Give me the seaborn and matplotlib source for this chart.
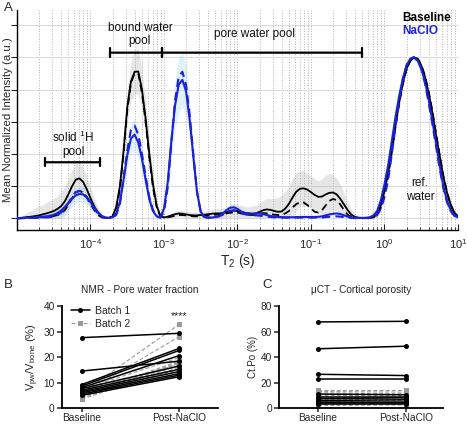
import numpy as np
import pandas as pd
import matplotlib
matplotlib.use("Agg")
import matplotlib.pyplot as plt
import seaborn as sns
from matplotlib.ticker import LogLocator, NullFormatter
from matplotlib.lines import Line2D

# ---------------- data: panel A (values read every 0.05 decade, log10 T2 from -5 to 1) ----------------
log_t2 = np.round(np.arange(121) * 0.05 - 5.0, 2)
t2 = 10.0 ** log_t2

baseline_mean = [
    0.000, 0.002, 0.005, 0.008, 0.010, 0.014, 0.018, 0.024, 0.030, 0.037,
    0.045, 0.058, 0.075, 0.105, 0.150, 0.200, 0.240, 0.248, 0.225, 0.180,
    0.125, 0.075, 0.035, 0.012, 0.003, 0.002, 0.012, 0.070, 0.200, 0.420,
    0.690, 0.850, 0.910, 0.912, 0.800, 0.620, 0.400, 0.210, 0.080, 0.015,
    0.005, 0.010, 0.018, 0.025, 0.030, 0.028, 0.024, 0.020, 0.018, 0.018,
    0.020, 0.022, 0.025, 0.028, 0.030, 0.030, 0.032, 0.038, 0.044, 0.047,
    0.045, 0.040, 0.034, 0.030, 0.028, 0.030, 0.040, 0.050, 0.055, 0.052,
    0.045, 0.040, 0.042, 0.060, 0.090, 0.130, 0.165, 0.183, 0.186, 0.178,
    0.162, 0.145, 0.133, 0.135, 0.148, 0.158, 0.160, 0.148, 0.120, 0.085,
    0.050, 0.022, 0.008, 0.003, 0.002, 0.002, 0.003, 0.008, 0.025, 0.080,
    0.170, 0.280, 0.430, 0.580, 0.720, 0.840, 0.930, 0.980, 1.000, 0.990,
    0.950, 0.880, 0.780, 0.660, 0.520, 0.390, 0.260, 0.160, 0.085, 0.035,
    0.012]

baseline_batch2 = [
    0.000, 0.000, 0.001, 0.002, 0.003, 0.004, 0.005, 0.006, 0.008, 0.010,
    0.014, 0.020, 0.030, 0.050, 0.085, 0.125, 0.160, 0.170, 0.160, 0.130,
    0.090, 0.052, 0.022, 0.006, 0.002, 0.002, 0.010, 0.060, 0.180, 0.400,
    0.670, 0.840, 0.900, 0.900, 0.780, 0.600, 0.380, 0.190, 0.070, 0.012,
    0.004, 0.006, 0.010, 0.015, 0.020, 0.020, 0.018, 0.015, 0.012, 0.012,
    0.013, 0.015, 0.017, 0.020, 0.022, 0.024, 0.026, 0.030, 0.034, 0.036,
    0.034, 0.030, 0.025, 0.022, 0.020, 0.022, 0.028, 0.032, 0.030, 0.026,
    0.022, 0.020, 0.022, 0.030, 0.045, 0.068, 0.088, 0.100, 0.098, 0.082,
    0.060, 0.040, 0.035, 0.050, 0.080, 0.108, 0.120, 0.112, 0.085, 0.050,
    0.022, 0.008, 0.003, 0.002, 0.001, 0.001, 0.002, 0.006, 0.020, 0.065,
    0.150, 0.260, 0.410, 0.570, 0.715, 0.835, 0.925, 0.978, 1.000, 0.992,
    0.955, 0.885, 0.790, 0.670, 0.530, 0.395, 0.265, 0.160, 0.082, 0.032,
    0.010]

naclo_mean = [
    0.000, 0.001, 0.002, 0.003, 0.004, 0.005, 0.007, 0.009, 0.012, 0.016,
    0.022, 0.032, 0.048, 0.070, 0.095, 0.122, 0.142, 0.151, 0.148, 0.130,
    0.100, 0.068, 0.038, 0.015, 0.004, 0.002, 0.006, 0.030, 0.100, 0.240,
    0.390, 0.495, 0.520, 0.470, 0.370, 0.240, 0.120, 0.045, 0.012, 0.004,
    0.060, 0.220, 0.480, 0.700, 0.830, 0.860, 0.790, 0.610, 0.380, 0.160,
    0.040, 0.008, 0.004, 0.004, 0.008, 0.015, 0.030, 0.050, 0.065, 0.068,
    0.058, 0.042, 0.032, 0.030, 0.028, 0.030, 0.030, 0.026, 0.020, 0.014,
    0.010, 0.008, 0.007, 0.006, 0.006, 0.006, 0.007, 0.008, 0.008, 0.008,
    0.008, 0.008, 0.009, 0.012, 0.018, 0.024, 0.028, 0.030, 0.026, 0.018,
    0.010, 0.005, 0.003, 0.002, 0.002, 0.003, 0.006, 0.018, 0.045, 0.110,
    0.210, 0.330, 0.480, 0.630, 0.760, 0.870, 0.950, 0.990, 1.000, 0.980,
    0.930, 0.850, 0.740, 0.610, 0.470, 0.330, 0.200, 0.110, 0.050, 0.018,
    0.005]

naclo_batch2 = [
    0.000, 0.000, 0.001, 0.001, 0.002, 0.002, 0.003, 0.004, 0.005, 0.007,
    0.010, 0.020, 0.035, 0.060, 0.095, 0.135, 0.163, 0.170, 0.160, 0.130,
    0.095, 0.060, 0.030, 0.010, 0.003, 0.002, 0.005, 0.020, 0.090, 0.250,
    0.420, 0.550, 0.575, 0.520, 0.400, 0.260, 0.130, 0.050, 0.012, 0.004,
    0.040, 0.190, 0.470, 0.730, 0.880, 0.910, 0.830, 0.640, 0.390, 0.160,
    0.040, 0.008, 0.003, 0.003, 0.006, 0.012, 0.022, 0.036, 0.046, 0.050,
    0.045, 0.035, 0.025, 0.020, 0.018, 0.018, 0.016, 0.013, 0.010, 0.008,
    0.006, 0.005, 0.004, 0.004, 0.004, 0.004, 0.004, 0.004, 0.004, 0.004,
    0.004, 0.004, 0.004, 0.005, 0.007, 0.009, 0.011, 0.012, 0.010, 0.007,
    0.004, 0.002, 0.001, 0.001, 0.001, 0.001, 0.002, 0.006, 0.020, 0.060,
    0.130, 0.240, 0.400, 0.570, 0.730, 0.860, 0.950, 0.990, 1.000, 0.980,
    0.930, 0.840, 0.720, 0.590, 0.450, 0.310, 0.190, 0.100, 0.045, 0.015,
    0.004]

baseline_sd = [
    0.00, 0.01, 0.02, 0.03, 0.04, 0.05, 0.06, 0.06, 0.07, 0.07,
    0.08, 0.08, 0.09, 0.09, 0.10, 0.10, 0.10, 0.10, 0.09, 0.08,
    0.07, 0.05, 0.03, 0.02, 0.01, 0.01, 0.01, 0.02, 0.04, 0.07,
    0.10, 0.12, 0.14, 0.14, 0.12, 0.10, 0.08, 0.06, 0.03, 0.01,
    0.01, 0.01, 0.01, 0.02, 0.02, 0.02, 0.02, 0.02, 0.02, 0.02,
    0.02, 0.02, 0.02, 0.03, 0.03, 0.03, 0.03, 0.03, 0.04, 0.04,
    0.04, 0.04, 0.04, 0.04, 0.05, 0.05, 0.06, 0.06, 0.07, 0.07,
    0.08, 0.09, 0.10, 0.11, 0.11, 0.12, 0.12, 0.11, 0.11, 0.10,
    0.10, 0.10, 0.10, 0.11, 0.12, 0.12, 0.11, 0.10, 0.09, 0.07,
    0.05, 0.03, 0.02, 0.01, 0.01, 0.01, 0.01, 0.01, 0.02, 0.03,
    0.04, 0.04, 0.04, 0.03, 0.03, 0.02, 0.02, 0.01, 0.01, 0.01,
    0.01, 0.02, 0.03, 0.03, 0.04, 0.04, 0.04, 0.03, 0.03, 0.02,
    0.01]

naclo_sd = [
    0.00, 0.00, 0.01, 0.01, 0.01, 0.01, 0.01, 0.02, 0.02, 0.02,
    0.02, 0.03, 0.03, 0.04, 0.04, 0.05, 0.05, 0.05, 0.05, 0.04,
    0.04, 0.03, 0.02, 0.01, 0.01, 0.01, 0.01, 0.02, 0.04, 0.06,
    0.08, 0.09, 0.10, 0.09, 0.08, 0.06, 0.04, 0.02, 0.01, 0.01,
    0.04, 0.08, 0.12, 0.15, 0.17, 0.17, 0.15, 0.12, 0.08, 0.04,
    0.02, 0.01, 0.01, 0.01, 0.01, 0.01, 0.02, 0.02, 0.02, 0.02,
    0.02, 0.02, 0.01, 0.01, 0.01, 0.01, 0.01, 0.01, 0.01, 0.01,
    0.01, 0.01, 0.01, 0.01, 0.01, 0.01, 0.01, 0.01, 0.01, 0.01,
    0.01, 0.01, 0.01, 0.01, 0.01, 0.01, 0.01, 0.01, 0.01, 0.01,
    0.01, 0.01, 0.00, 0.00, 0.00, 0.00, 0.01, 0.01, 0.02, 0.03,
    0.04, 0.04, 0.04, 0.03, 0.03, 0.02, 0.01, 0.01, 0.01, 0.01,
    0.01, 0.02, 0.03, 0.03, 0.04, 0.04, 0.03, 0.03, 0.02, 0.01,
    0.01]

# ---------------- data: panel B (pore water fraction, %) ----------------
nmr_b1_baseline = [27.6, 14.5, 9.2, 8.6, 8.0, 7.6, 7.0, 6.5, 6.0, 5.5, 5.0]
nmr_b1_post = [29.3, 18.4, 23.4, 22.6, 20.6, 16.5, 15.2, 14.3, 13.5, 12.9, 12.3]
nmr_b2_baseline = [6.0, 5.5, 7.2, 4.8, 4.2, 3.8, 3.5, 5.0, 6.5, 4.5]
nmr_b2_post = [32.8, 28.0, 19.8, 18.5, 17.6, 16.8, 16.0, 15.0, 17.2, 18.0]

# ---------------- data: panel C (cortical porosity, %) ----------------
ct_b1_baseline = [67.5, 46.5, 26.5, 22.5, 11.0, 9.0, 7.5, 6.0, 5.0, 4.0, 3.0]
ct_b1_post = [68.0, 48.5, 25.5, 22.5, 10.5, 9.0, 8.0, 6.5, 5.0, 4.0, 3.0]
ct_b2_baseline = [14.0, 13.0, 12.0, 10.0, 8.5, 7.0, 5.5, 4.5, 3.5, 2.0]
ct_b2_post = [14.0, 12.5, 11.0, 10.0, 9.0, 7.0, 6.0, 4.5, 3.5, 2.5]

conditions = ["Baseline", "Post-NaClO"]

# ---------------- style ----------------
sns.set_theme(style="ticks")
plt.rcParams["font.family"] = ["Liberation Sans", "DejaVu Sans"]
plt.rcParams["mathtext.default"] = "regular"

BLUE = "#1c22d4"
GRAY = "#9a9a9a"

fig = plt.figure(figsize=(4.67, 4.26), dpi=100)

# ================= Panel A =================
axA = fig.add_axes([0.0364, 0.4601, 0.9443, 0.5164])

bl = np.array(baseline_mean)
nc = np.array(naclo_mean)
bsd = np.array(baseline_sd)
nsd = np.array(naclo_sd)
axA.fill_between(t2, np.clip(bl - bsd, 0, None), bl + bsd, color="#a8a8a8", alpha=0.28, lw=0, zorder=1)
axA.fill_between(t2, np.clip(nc - nsd, 0, None), nc + nsd, color="#8fd0ec", alpha=0.28, lw=0, zorder=1)

sns.lineplot(x=t2, y=baseline_mean, ax=axA, color="black", lw=1.3, sort=False, zorder=3)
sns.lineplot(x=t2, y=baseline_batch2, ax=axA, color="black", lw=1.3, linestyle=(0, (4, 2.5)), sort=False, zorder=3)
sns.lineplot(x=t2, y=naclo_mean, ax=axA, color=BLUE, lw=1.5, sort=False, zorder=4)
sns.lineplot(x=t2, y=naclo_batch2, ax=axA, color=BLUE, lw=1.5, linestyle=(0, (4, 2.5)), sort=False, zorder=4)

axA.set_xscale("log")
axA.set_xlim(1e-5, 10)
axA.set_ylim(-0.073, 1.294)
axA.set_xticks([1e-4, 1e-3, 1e-2, 1e-1, 1e0, 1e1])
axA.xaxis.set_minor_locator(LogLocator(base=10, subs=np.arange(2, 10)))
axA.xaxis.set_minor_formatter(NullFormatter())
axA.set_yticks([0, 0.2, 0.4, 0.6, 0.8, 1.0, 1.2])
axA.set_yticklabels([])
axA.grid(True, which="both", axis="x", ls=":", color="#b0b0b0", lw=0.7)
axA.grid(True, which="major", axis="y", ls="-", color="#dadada", lw=0.7)
axA.tick_params(axis="x", which="major", direction="in", length=4, width=0.8, labelsize=8, pad=5)
axA.tick_params(axis="x", which="minor", direction="in", length=2.5, width=0.6)
axA.tick_params(axis="y", which="major", direction="out", length=4, width=0.8)
sns.despine(ax=axA)
for s in ["left", "bottom"]:
    axA.spines[s].set_color("black")
    axA.spines[s].set_linewidth(1.0)
axA.set_xlabel("T$_2$ (s)", fontsize=10, labelpad=1)
axA.set_ylabel("Mean Normalized Intensity (a.u.)", fontsize=8.2)
axA.yaxis.set_label_coords(-0.009, 0.5)

# brackets for pools
solid_pool = (2.4e-5, 1.35e-4, 0.348)
bound_pool = (1.84e-4, 9.4e-4, 1.029)
pore_pool = (9.4e-4, 0.49, 1.029)
for x0, x1, yb in [solid_pool, bound_pool, pore_pool]:
    axA.annotate("", xy=(x0, yb), xytext=(x1, yb),
                 arrowprops=dict(arrowstyle="|-|, widthA=0.25, widthB=0.25", lw=1.6, color="black",
                                 shrinkA=0, shrinkB=0), zorder=5)
txt_kw = dict(ha="center", va="center", fontsize=8.5, linespacing=1.15, color="#111111")
axA.text(5.8e-5, 0.46, "solid $^1$H\npool", **txt_kw)
axA.text(4.7e-4, 1.14, "bound water\npool", **txt_kw)
axA.text(0.0173, 1.143, "pore water pool", **txt_kw)
axA.text(3.04, 0.176, "ref.\nwater", **txt_kw)
axA.text(1.73, 1.242, "Baseline", ha="left", va="center", fontsize=8.5, fontweight="bold", color="black")
axA.text(1.73, 1.165, "NaClO", ha="left", va="center", fontsize=8.5, fontweight="bold", color=BLUE)

# ================= Panels B & C helper =================
def paired(ax, b1_base, b1_post, b2_base, b2_post):
    rows = []
    for i, (a, b) in enumerate(zip(b2_base, b2_post)):
        rows += [("b2", f"b2_{i}", 0, a), ("b2", f"b2_{i}", 1, b)]
    for i, (a, b) in enumerate(zip(b1_base, b1_post)):
        rows += [("b1", f"b1_{i}", 0, a), ("b1", f"b1_{i}", 1, b)]
    df = pd.DataFrame(rows, columns=["batch", "sid", "cond", "val"])
    sns.lineplot(data=df[df.batch == "b2"], x="cond", y="val", units="sid", estimator=None,
                 color=GRAY, lw=0.8, linestyle=(0, (3.5, 2)), marker="s", markersize=3.6,
                 markeredgewidth=0, markerfacecolor=GRAY, ax=ax, zorder=2)
    sns.lineplot(data=df[df.batch == "b1"], x="cond", y="val", units="sid", estimator=None,
                 color="black", lw=1.1, marker="o", markersize=3.6, markeredgewidth=0,
                 ax=ax, zorder=3)
    ax.set_xticks([0, 1])
    ax.set_xticklabels(conditions)
    ax.set_xlabel("")
    sns.despine(ax=ax)
    for s in ["left", "bottom"]:
        ax.spines[s].set_color("black")
        ax.spines[s].set_linewidth(1.3)
    ax.tick_params(axis="both", direction="out", length=3.5, width=1.1, labelsize=7.3, pad=1.5)
    ax.tick_params(axis="x", length=3, pad=0.5)

# ================= Panel B =================
axB = fig.add_axes([0.1321, 0.0420, 0.3353, 0.2397])
paired(axB, nmr_b1_baseline, nmr_b1_post, nmr_b2_baseline, nmr_b2_post)
axB.set_xlim(-0.205, 1.40)
axB.set_ylim(0, 40)
axB.set_yticks([0, 10, 20, 30, 40])
axB.set_ylabel("V$_{pw}$/V$_{bone}$ (%)", fontsize=8, labelpad=2)
axB.set_title("NMR - Pore water fraction", fontsize=7.3, pad=9)
axB.text(1, 36.2, "****", ha="center", va="center", fontsize=7.5)
handles = [Line2D([0], [0], color="black", lw=1.1, marker="o", markersize=3.6, markeredgewidth=0),
           Line2D([0], [0], color=GRAY, lw=0.8, ls=(0, (3.5, 2)), marker="s", markersize=3.6, markeredgewidth=0)]
axB.legend(handles, ["Batch 1", "Batch 2"], loc="upper left", bbox_to_anchor=(0.02, 1.06),
           frameon=False, fontsize=7.5, handlelength=1.8, handletextpad=0.5, labelspacing=0.25,
           borderaxespad=0.2)

# ================= Panel C =================
axC = fig.add_axes([0.5974, 0.0420, 0.3512, 0.2397])
paired(axC, ct_b1_baseline, ct_b1_post, ct_b2_baseline, ct_b2_post)
axC.set_xlim(-0.445, 1.42)
axC.set_ylim(0, 80)
axC.set_yticks([0, 20, 40, 60, 80])
axC.set_ylabel("Ct.Po (%)", fontsize=7, labelpad=2)
axC.set_title("μCT - Cortical porosity", fontsize=7.3, pad=9)

# panel letters
fig.text(0.008, 0.995, "A", fontsize=9.5, va="top", ha="left")
fig.text(0.008, 0.345, "B", fontsize=9.5, va="top", ha="left")
fig.text(0.562, 0.345, "C", fontsize=9.5, va="top", ha="left")

fig.savefig("out.png", dpi=100)
